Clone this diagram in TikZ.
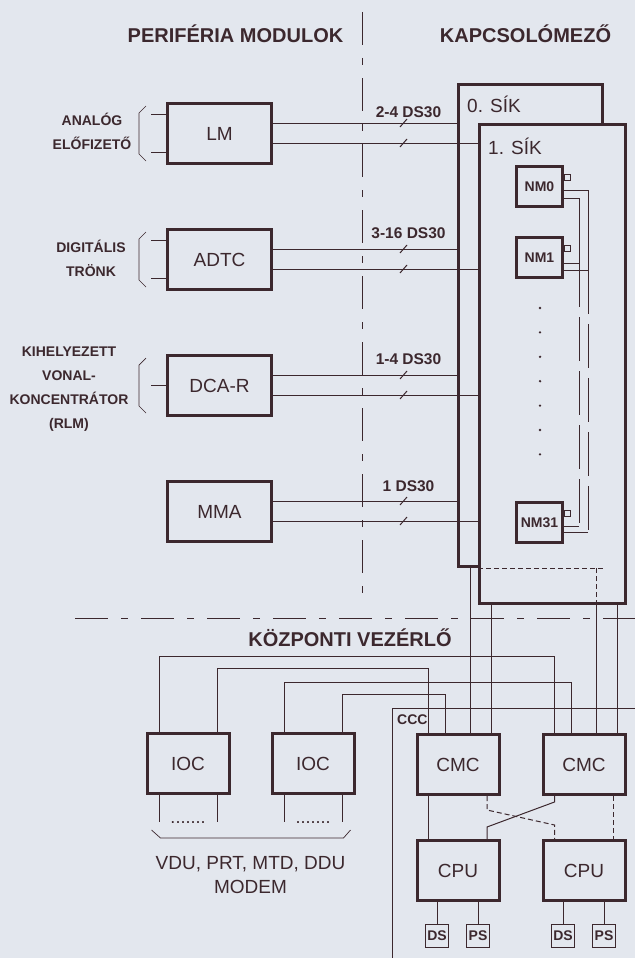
\documentclass[tikz,border=0pt]{standalone}
\usepackage{fontspec}
\setmainfont{Liberation Sans}
\usepackage{xcolor}
\usepackage{tikz}
\usetikzlibrary{positioning}

\definecolor{ink}{RGB}{60,40,46}
\definecolor{paper}{RGB}{227,231,238}

\begin{document}
\begin{tikzpicture}[
    x=1pt, y=1pt,
    node distance=63pt and 40pt,
    every node/.style={text=ink},
    module/.style={
        draw=ink,
        line width=3pt,
        fill=paper,
        minimum width=104pt,
        minimum height=60pt,
        font=\fontsize{19}{22}\selectfont
    },
    unit/.style={
        draw=ink,
        line width=3pt,
        fill=paper,
        minimum width=82pt,
        minimum height=60pt,
        font=\fontsize{19}{22}\selectfont
    },
    plane/.style={
        draw=ink,
        line width=3pt,
        fill=paper,
        inner sep=0pt
    },
    nmbox/.style={
        draw=ink,
        line width=3pt,
        fill=paper,
        minimum width=46pt,
        minimum height=40pt,
        inner sep=0pt,
        font=\fontsize{14}{16}\selectfont\bfseries
    },
    port/.style={
        draw=ink,
        line width=0.9pt,
        minimum size=6pt,
        inner sep=0pt
    },
    tinybox/.style={
        draw=ink,
        line width=1pt,
        minimum size=23pt,
        inner sep=0pt,
        font=\fontsize{14}{16}\selectfont\bfseries
    },
    title/.style={font=\fontsize{20}{24}\selectfont\bfseries},
    side/.style={align=center, font=\fontsize{14}{24}\selectfont\bfseries},
    rate/.style={font=\fontsize{15.5}{18}\selectfont\bfseries},
    wire/.style={draw=ink, line width=1pt},
    brace/.style={draw=ink, line width=0.7pt},
    hidden/.style={wire, dash pattern=on 5pt off 3pt},
    busgap/.style={wire, dash pattern=on 44pt off 10pt},
    border/.style={
        draw=ink,
        line width=1pt,
        dash pattern=on 33pt off 13pt on 7pt off 13pt
    }
]

\fill[paper] (0,0) rectangle (635,-958);
\useasboundingbox (0,0) rectangle (635,-958);

\node[title, anchor=base] (perif) at (235.5,-43) {PERIFÉRIA MODULOK};
\node[title, anchor=base] (kapcs) at (525.5,-43) {KAPCSOLÓMEZŐ};
\node[title, anchor=base] (kozp) at (350,-646) {KÖZPONTI VEZÉRLŐ};

\draw[border] (362.5,-12) -- (362.5,-600);
\draw[border] (75,-618) -- (635,-618);

\node[module] (lm) at (219.5,-133.5) {LM};
\node[module, below=of lm] (adtc) {ADTC};
\node[module, below=of adtc] (dcar) {DCA-R};
\node[module, below=of dcar] (mma) {MMA};

\node[side] (analog) at (92,-131) {ANALÓG\\ELŐFIZETŐ};
\node[side] (digit) at (91,-258) {DIGITÁLIS\\TRÖNK};
\node[side] (rlm) at (69,-389) {KIHELYEZETT\\VONAL-\\KONCENTRÁTOR\\(RLM)};

\foreach \m in {lm, adtc, dcar} {
    \draw[brace] ([xshift=-20pt,yshift=-4pt]\m.north west) -- ++(-7,-7)
        -- ([xshift=-27pt,yshift=11pt]\m.south west) -- ++(7,-7);
}
\foreach \m in {lm, adtc} {
    \draw[wire] ([yshift=19pt]\m.west) -- ++(-15,0);
    \draw[wire] ([yshift=-19pt]\m.west) -- ++(-15,0);
}
\draw[wire] (dcar.west) -- ++(-15,0);

\node[plane, minimum width=144pt, minimum height=482pt, anchor=north west] (sik0) at (457,-83) {};
\node[plane, minimum width=146pt, minimum height=479pt, anchor=north west] (sik1) at (478,-123) {};
\node[font=\fontsize{19}{22}\selectfont, anchor=base west, inner sep=0pt] (sik0lbl)
    at ([xshift=10pt,yshift=-29pt]sik0.north west) {0. SÍK};
\node[font=\fontsize{19}{22}\selectfont, anchor=base west, inner sep=0pt] (sik1lbl)
    at ([xshift=10pt,yshift=-31pt]sik1.north west) {1. SÍK};
\draw[hidden] (sik0.south -| sik1.west) -- (sik0.south east);

\node[nmbox] (nm0) at (539.5,-186.5) {NM0};
\node[nmbox, below=28pt of nm0] (nm1) {NM1};
\node[nmbox] (nm31) at (539.5,-522.5) {NM31};

\foreach \n/\a/\b in {nm0/25/33, nm1/27/34, nm31/25/31} {
    \node[port, anchor=south west] (\n-port) at ([yshift=-16pt]\n.north east) {};
    \coordinate (\n-a) at ([yshift=-\a pt]\n.north east);
    \coordinate (\n-b) at ([yshift=-\b pt]\n.north east);
}
\coordinate (busL) at (579,0);
\coordinate (busR) at (588,0);

\draw[wire] (nm0-b) -| (busL |- nm1-a) -- (nm1-a);
\draw[busgap] (busL |- nm1-a) -- (busL |- nm31-a);
\draw[wire] (busL |- nm31-a) -- (nm31-a);
\draw[wire] (nm0-a) -| (busR |- nm1-b) -- (nm1-b);
\draw[busgap] (busR |- nm1-b) -- (busR |- nm31-b);
\draw[wire] (busR |- nm31-b) -- (nm31-b);

\foreach \k in {0,...,6} {
    \fill[ink] (540,-308-24.4*\k) circle (1.3pt);
}

\coordinate (slash) at (403.5,0);
\foreach \m/\d/\r in {lm/11/2-4 DS30, adtc/15.5/3-16 DS30, dcar/16/1-4 DS30, mma/15/1 DS30} {
    \coordinate (\m-up) at ([yshift=10.5pt]\m.east);
    \coordinate (\m-dn) at ([yshift=-9.5pt]\m.east);
    \draw[wire] (\m-up) -- (\m-up -| sik0.west);
    \draw[wire] (\m-dn) -- (\m-dn -| sik1.west);
    \draw[wire] (\m-up -| slash) ++(-3.5,-4) -- ++(7,8);
    \draw[wire] (\m-dn -| slash) ++(-3.5,-4) -- ++(7,8);
    \path (\m-up -| slash) ++(5,\d) node[rate] (\m-rate) {\r};
}

\node[unit] (ioc1) at (188,-763.5) {IOC};
\node[unit, right=40pt of ioc1] (ioc2) {IOC};
\node[unit] (cmc1) at (458,-764.5) {CMC};
\node[unit, right=41pt of cmc1] (cmc2) {CMC};
\node[unit, below=43pt of cmc1] (cpu1) {CPU};
\node[unit, below=43pt of cmc2] (cpu2) {CPU};

\coordinate (ccc) at (392,-708);
\draw[wire] (392,-958) -- (ccc) -- (635,-708);
\node[font=\fontsize{14}{16}\selectfont\bfseries, anchor=west, inner sep=0pt] (ccclbl) at (397,-720) {CCC};

\draw[wire] ([xshift=-29pt]ioc1.north) -- ++(0,76) -| ([xshift=-29.5pt]cmc2.north);
\draw[wire] ([xshift=29pt]ioc1.north) -- ++(0,64) -| ([xshift=-29.5pt]cmc1.north);
\draw[wire] ([xshift=-29pt]ioc2.north) -- ++(0,50) -| ([xshift=-12.5pt]cmc2.north);
\draw[wire] ([xshift=29pt]ioc2.north) -- ++(0,38) -| ([xshift=-12.5pt]cmc1.north);

\coordinate (c1p0) at ([xshift=12.5pt]cmc1.north);
\coordinate (c1p1) at ([xshift=33pt]cmc1.north);
\coordinate (c2p0) at ([xshift=12.5pt]cmc2.north);
\coordinate (c2p1) at ([xshift=33pt]cmc2.north);
\draw[wire] (c1p0) -- (c1p0 |- sik0.south);
\draw[wire] (c1p1) -- (c1p1 |- sik1.south);
\draw[wire] (c2p0) -- (c2p0 |- sik1.south);
\draw[hidden] (c2p0 |- sik1.south) -- (c2p0 |- sik0.south);
\draw[wire] (c2p1) -- (c2p1 |- sik1.south);

\draw[wire] ([xshift=-29.5pt]cmc1.south) -- ([xshift=-29.5pt]cpu1.north);
\draw[wire] ([xshift=-29.5pt]cmc2.south) -- ++(0,-6)
    -- ([xshift=29pt,yshift=12pt]cpu1.north) -- ([xshift=29pt]cpu1.north);
\draw[hidden] ([xshift=29pt]cmc1.south) -- ++(0,-14)
    -- ([xshift=-29.5pt,yshift=14pt]cpu2.north) -- ([xshift=-29.5pt]cpu2.north);
\draw[hidden] ([xshift=29.5pt]cmc2.south) -- ([xshift=29.5pt]cpu2.north);

\node[tinybox, below=22pt of cpu1, xshift=-21pt] (ds1) {DS};
\node[tinybox, below=22pt of cpu1, xshift=20pt] (ps1) {PS};
\node[tinybox, below=22pt of cpu2, xshift=-21pt] (ds2) {DS};
\node[tinybox, below=22pt of cpu2, xshift=20pt] (ps2) {PS};
\foreach \b/\c in {ds1/cpu1, ps1/cpu1, ds2/cpu2, ps2/cpu2} {
    \draw[wire] (\b) -- (\b |- \c.south);
}

\foreach \u in {ioc1, ioc2} {
    \draw[wire] ([xshift=-29pt]\u.south) -- ++(0,-27);
    \draw[wire] ([xshift=29pt]\u.south) -- ++(0,-27);
    \node[font=\fontsize{18}{20}\selectfont, anchor=base] (\u-dots) at ([yshift=-28pt]\u.south) {.......};
}
\draw[brace] ([xshift=6pt,yshift=-35pt]ioc1.south west) -- ++(9,-8)
    -- ([xshift=-12pt,yshift=-43pt]ioc2.south east) -- ++(7,8);
\node[font=\fontsize{19}{24}\selectfont, align=center] (term) at (250.5,-875) {VDU, PRT, MTD, DDU\\MODEM};

\end{tikzpicture}
\end{document}
